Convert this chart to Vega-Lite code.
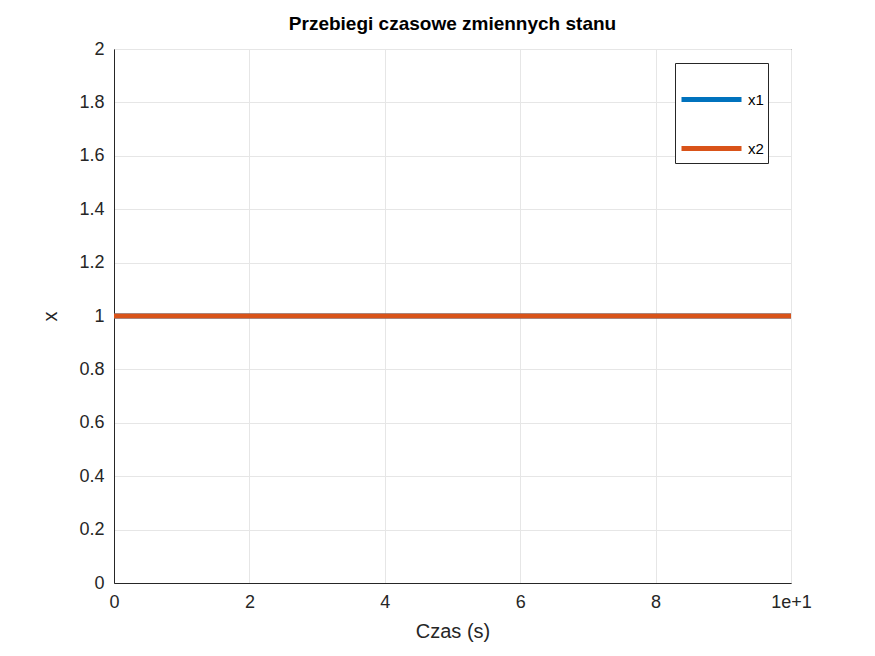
{
  "$schema": "https://vega.github.io/schema/vega-lite/v6.json",
  "width": 677,
  "height": 534,
  "autosize": {"type": "none"},
  "padding": {"left": 114, "top": 49, "right": 84, "bottom": 73},
  "background": "white",
  "title": {"text": "Przebiegi czasowe zmiennych stanu", "font": "Liberation Sans", "fontSize": 19, "fontWeight": "bold", "color": "black", "offset": 6},
  "data": {"values": [
    {"t": 0, "x": 1, "series": "x1"},
    {"t": 10, "x": 1, "series": "x1"},
    {"t": 0, "x": 1, "series": "x2"},
    {"t": 10, "x": 1, "series": "x2"}
  ]},
  "mark": {"type": "line", "strokeWidth": 5, "clip": true},
  "encoding": {
    "x": {"field": "t", "type": "quantitative", "scale": {"domain": [0, 10], "nice": false}, "axis": {"title": "Czas (s)", "values": [0, 2, 4, 6, 8, 10], "format": "~g"}},
    "y": {"field": "x", "type": "quantitative", "scale": {"domain": [0, 2], "nice": false}, "axis": {"title": "x", "values": [0, 0.2, 0.4, 0.6, 0.8, 1, 1.2, 1.4, 1.6, 1.8, 2], "format": "~g"}},
    "color": {"field": "series", "type": "nominal", "scale": {"domain": ["x1", "x2"], "range": ["#0072BD", "#D95319"]},
      "legend": {"title": null, "orient": "none", "legendX": 561, "legendY": 14, "symbolType": "stroke", "symbolStrokeWidth": 5, "symbolSize": 3600, "fillColor": "white", "strokeColor": "#262626", "padding": 4, "labelFontSize": 15, "labelFont": "Liberation Sans", "labelColor": "black", "rowPadding": 6, "labelOffset": 4}},
    "detail": {"field": "series"}
  },
  "config": {
    "view": {"stroke": "#262626", "strokeWidth": 1},
    "axis": {
      "domainColor": "#262626",
      "tickColor": "#262626",
      "tickSize": 0,
      "grid": true,
      "gridColor": "#e6e6e6",
      "labelFont": "Liberation Sans",
      "labelFontSize": 18,
      "labelColor": "#262626",
      "titleFont": "Liberation Sans",
      "titleFontSize": 20,
      "titleFontWeight": "normal",
      "titleColor": "#262626",
      "labelPadding": 10
    },
    "axisX": {"titlePadding": 10, "labelFlush": false},
    "axisY": {"titlePadding": 18, "labelFlush": false}
  }
}
